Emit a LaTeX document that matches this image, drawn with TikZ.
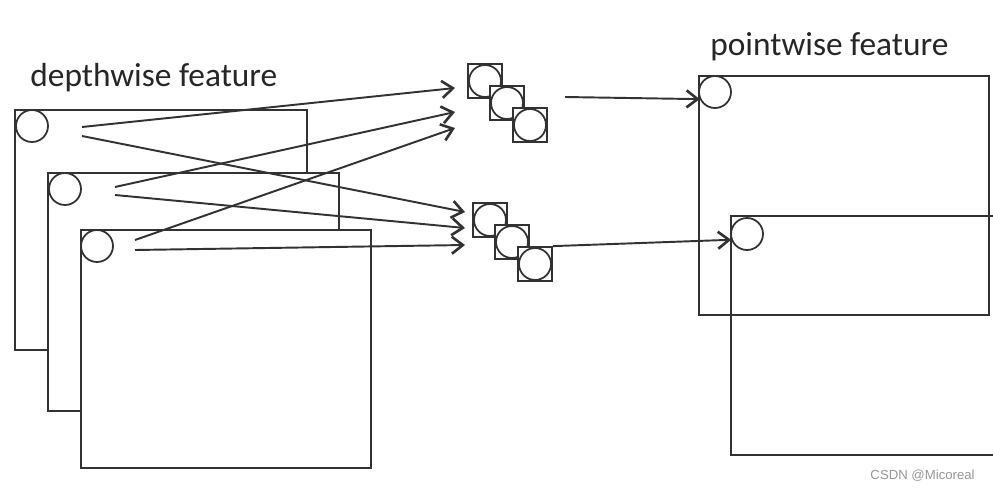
\documentclass[tikz,border=0pt]{standalone}
\usepackage{fontspec}
\setmainfont{Carlito}
\newfontfamily\markfont{Liberation Sans}
\usetikzlibrary{positioning}
\usetikzlibrary{arrows.meta}

\definecolor{linegray}{RGB}{50, 50, 50}
\definecolor{markgray}{RGB}{150, 150, 150}

\begin{document}
\begin{tikzpicture}[x = 0.02cm, y = -0.02cm,
	plane/.style = {draw = linegray, line width = 1pt},
	dot/.style = {circle, draw = linegray, fill = white, line width = 1pt, minimum size = 0.64cm, inner sep = 0pt},
	slot/.style = {rectangle, draw = linegray, fill = white, line width = 1pt, minimum size = 0.68cm, inner sep = 0pt},
	link/.style = {draw = linegray, line width = 1.1pt, -{Straight Barb[length = 2.2mm, width = 3.4mm, line width = 1.5pt]}},
	title/.style = {anchor = base west, inner sep = 0pt, text = black!85, font = \fontsize{19}{22}\selectfont}]
	\useasboundingbox (0, 0) rectangle (993, 490);
	\node (depth) at (30, 86) [title] {depthwise feature};
	\node (point) at (710, 55) [title] {pointwise feature};
	\draw [plane, fill = white] (15, 110) rectangle (307, 350);
	\node (d1) at (32, 126) [dot] {};
	\draw [plane, fill = white] (48, 173) rectangle (339, 411);
	\node (d2) at (65, 189) [dot] {};
	\draw [plane, fill = white] (81, 230) rectangle (371, 468);
	\node (d3) at (97, 246) [dot] {};
	\coordinate (d1a) at (82, 127);
	\coordinate (d1b) at (82, 136);
	\coordinate (d2a) at (115, 187);
	\coordinate (d2b) at (115, 195);
	\coordinate (d3a) at (135, 240);
	\coordinate (d3b) at (135, 250);
	\coordinate (u1in) at (455, 88);
	\coordinate (u2in) at (455, 112);
	\coordinate (u3in) at (455, 128);
	\coordinate (l1in) at (465, 212);
	\coordinate (l2in) at (465, 228);
	\coordinate (l3in) at (465, 245);
	\node (u1) at (485, 81) [slot] {};
	\node (u1c) at (u1) [dot] {};
	\node (u2) at (507, 103) [slot] {};
	\node (u2c) at (u2) [dot] {};
	\node (u3) at (530, 125) [slot] {};
	\node (u3c) at (u3) [dot] {};
	\node (l1) at (490, 220) [slot] {};
	\node (l1c) at (l1) [dot] {};
	\node (l2) at (512, 242) [slot] {};
	\node (l2c) at (l2) [dot] {};
	\node (l3) at (535, 264) [slot] {};
	\node (l3c) at (l3) [dot] {};
	\draw [plane] (699, 76) rectangle (989, 315);
	\draw [plane] (993, 216) -- (731, 216) -- (731, 455) -- (993, 455);
	\node (pa) at (715, 92) [dot, fill = none] {};
	\node (pb) at (747, 234) [dot, fill = none] {};
	\draw [link] (d1a) -- (u1in);
	\draw [link] (d1b) -- (l1in);
	\draw [link] (d2a) -- (u2in);
	\draw [link] (d2b) -- (l2in);
	\draw [link] (d3a) -- (u3in);
	\draw [link] (d3b) -- (l3in);
	\coordinate (uout) at (565, 97);
	\draw [link] (uout) -- (pa.205);
	\draw [link] (l3.north east) -- (pb.200);
	\node (mark) at (975, 476) [anchor = east, inner sep = 0pt, text = markgray, font = \fontsize{7.5}{9}\selectfont\markfont] {CSDN @Micoreal};
\end{tikzpicture}
\end{document}
